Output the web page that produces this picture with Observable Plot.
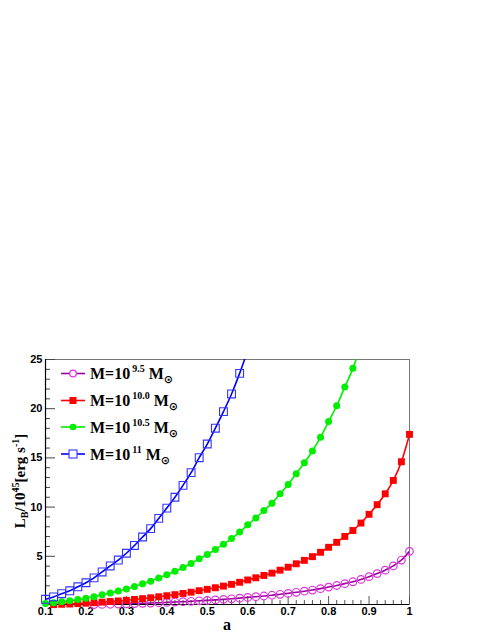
<!DOCTYPE html>
<html>
<head>
<meta charset="utf-8">
<script src="https://cdn.jsdelivr.net/npm/d3@7"></script>
<script src="https://cdn.jsdelivr.net/npm/@observablehq/plot@0.6"></script>
<style>
  html, body { margin: 0; padding: 0; background: white; }
</style>
</head>
<body>
<div id="chart"></div>
<script>
// spin parameter a
const aValues = [0.10,0.12,0.14,0.16,0.18,0.20,0.22,0.24,0.26,0.28,0.30,0.32,0.34,0.36,0.38,0.40,0.42,0.44,0.46,0.48,0.50,0.52,0.54,0.56,0.58,0.60,0.62,0.64,0.66,0.68,0.70,0.72,0.74,0.76,0.78,0.80,0.82,0.84,0.86,0.88,0.90,0.92,0.94,0.96,0.98,1.00];
// L_B / 1e45 erg/s for each mass
const lumM95  = [0.020,0.028,0.038,0.047,0.060,0.073,0.089,0.108,0.127,0.146,0.168,0.193,0.220,0.247,0.280,0.313,0.348,0.386,0.427,0.475,0.519,0.570,0.623,0.680,0.746,0.820,0.890,0.965,1.040,1.135,1.230,1.340,1.450,1.570,1.710,1.870,2.030,2.220,2.410,2.650,2.930,3.240,3.590,4.020,4.620,5.500];
const lumM100 = [0.063,0.087,0.120,0.149,0.190,0.231,0.281,0.341,0.402,0.462,0.531,0.610,0.696,0.781,0.885,0.990,1.100,1.221,1.350,1.502,1.641,1.802,1.970,2.150,2.359,2.593,2.814,3.051,3.288,3.589,3.889,4.237,4.585,4.964,5.407,5.913,6.419,7.020,7.620,8.379,9.265,10.245,11.352,12.711,14.608,17.391];
const lumM105 = [0.20,0.28,0.38,0.47,0.60,0.73,0.89,1.08,1.27,1.46,1.68,1.93,2.20,2.47,2.80,3.13,3.48,3.86,4.27,4.75,5.19,5.70,6.23,6.80,7.46,8.20,8.90,9.65,10.40,11.35,12.30,13.40,14.50,15.70,17.10,18.70,20.30,22.20,24.10,26.50];
const lumM110 = [0.63,0.87,1.20,1.49,1.90,2.31,2.81,3.41,4.02,4.62,5.31,6.10,6.96,7.81,8.85,9.90,11.00,12.21,13.50,15.02,16.41,18.02,19.70,21.50,23.59,25.93];

const seriesNames = ["9.5", "10.0", "10.5", "11"];
const seriesValues = [lumM95, lumM100, lumM105, lumM110];
const lineColors = ["#990099", "#ff0000", "#00ee00", "#0000ff"];
const markColors = ["#dd33dd", "#ff0000", "#00ee00", "#3333ff"];

const xMajor = [0.1,0.2,0.3,0.4,0.5,0.6,0.7,0.8,0.9,1.0];
const xMinor = [0.12,0.14,0.16,0.18,0.22,0.24,0.26,0.28,0.32,0.34,0.36,0.38,0.42,0.44,0.46,0.48,0.52,0.54,0.56,0.58,0.62,0.64,0.66,0.68,0.72,0.74,0.76,0.78,0.82,0.84,0.86,0.88,0.92,0.94,0.96,0.98];
const yMajor = [5,10,15,20,25];
const yMinor = [1,2,3,4,6,7,8,9,11,12,13,14,16,17,18,19,21,22,23,24];

const rows = seriesValues.map((vals, s) => vals.map((v, i) => ({a: aValues[i], L: v, s})));
const yMin = 0.1, yMax = 25;
const visible = r => r.L >= 0.085 && r.L <= yMax;

const lineMarks = rows.map((r, s) => Plot.line(r, {x: "a", y: "L", stroke: lineColors[s], strokeWidth: 1.6, curve: "monotone-x", clip: true}));
const dotMarks = [
  Plot.dot(rows[0].filter(visible), {x: "a", y: "L", r: 3.8, symbol: "circle", stroke: markColors[0], strokeWidth: 1.2, fill: "none"}),
  Plot.dot(rows[1].filter(visible), {x: "a", y: "L", r: 3.9, symbol: "square", fill: markColors[1], stroke: "none"}),
  Plot.dot(rows[2].filter(visible), {x: "a", y: "L", r: 3.5, symbol: "circle", fill: markColors[2], stroke: "none"}),
  Plot.dot(rows[3].filter(visible), {x: "a", y: "L", r: 4.4, symbol: "square", stroke: markColors[3], strokeWidth: 1.1, fill: "none"})
];

const chart = Plot.plot({
  width: 491,
  height: 635,
  marginLeft: 45,
  marginRight: 82,
  marginTop: 359,
  marginBottom: 31,
  x: {domain: [0.1, 1]},
  y: {domain: [yMin, yMax]},
  style: {fontFamily: "'Liberation Sans', Arial, sans-serif", fontWeight: "bold", fontSize: "11px", color: "black", background: "white"},
  marks: [
    Plot.frame({stroke: "#777777", strokeWidth: 1}),
    Plot.axisX(xMajor, {anchor: "bottom", tickSize: -8, tickFormat: () => "", label: null, stroke: "#555"}),
    Plot.axisX(xMinor, {anchor: "bottom", tickSize: -4, tickFormat: () => "", label: null, stroke: "#555"}),
    Plot.axisX(xMajor, {anchor: "bottom", tickSize: 0, tickPadding: 3, tickFormat: d => d3.format("")(+d.toFixed(1)), label: null, fontSize: 11, fontWeight: "bold"}),
    Plot.axisY(yMajor, {anchor: "left", tickSize: -10, tickFormat: () => "", label: null, stroke: "#444"}),
    Plot.axisY(yMinor, {anchor: "left", tickSize: -5, tickFormat: () => "", label: null, stroke: "#444"}),
    Plot.axisY(yMajor, {anchor: "left", tickSize: 0, tickPadding: 3, tickFormat: d => String(d), label: null, fontSize: 11, fontWeight: "bold"}),
    Plot.ruleY([yMin], {stroke: "black", strokeWidth: 1.2}),
    Plot.ruleX([0.1], {stroke: "black", strokeWidth: 1.2}),
    ...lineMarks,
    ...dotMarks
  ]
});

document.getElementById("chart").appendChild(chart);

const svg = d3.select(chart);
const serif = "'Liberation Serif', 'Times New Roman', serif";

// x-axis title
svg.append("text")
  .attr("x", 227).attr("y", 630)
  .attr("text-anchor", "middle")
  .attr("font-family", serif).attr("font-weight", "bold").attr("font-size", 16)
  .text("a");

// y-axis title
const yt = svg.append("text")
  .attr("transform", "translate(25,481) rotate(-90)")
  .attr("text-anchor", "middle")
  .attr("font-family", serif).attr("font-weight", "bold").attr("font-size", 15);
yt.append("tspan").text("L");
yt.append("tspan").attr("font-size", 10).attr("dy", 3).text("B");
yt.append("tspan").attr("dy", -3).text("/10");
yt.append("tspan").attr("font-size", 10).attr("dy", -6).text("45");
yt.append("tspan").attr("dy", 6).text("[erg s");
yt.append("tspan").attr("font-size", 10).attr("dy", -6).text("-1");
yt.append("tspan").attr("dy", 6).text("]");

// legend
const legY = [373.5, 400.5, 427, 454];
const leg = svg.append("g").attr("text-anchor", "start");
seriesNames.forEach((name, i) => {
  const y = legY[i];
  leg.append("line").attr("x1", 61).attr("x2", 85).attr("y1", y).attr("y2", y)
    .attr("stroke", lineColors[i]).attr("stroke-width", 1.6);
  if (i === 0) {
    leg.append("circle").attr("cx", 73).attr("cy", y).attr("r", 3.3).attr("fill", "white").attr("stroke", markColors[0]).attr("stroke-width", 1.2);
  } else if (i === 1) {
    leg.append("rect").attr("x", 69.5).attr("y", y - 3.5).attr("width", 7).attr("height", 7).attr("fill", markColors[1]);
  } else if (i === 2) {
    leg.append("circle").attr("cx", 73).attr("cy", y).attr("r", 3.3).attr("fill", markColors[2]);
  } else {
    leg.append("rect").attr("x", 69).attr("y", y - 4).attr("width", 8).attr("height", 8).attr("fill", "white").attr("stroke", markColors[3]).attr("stroke-width", 1.1);
  }
  const t = leg.append("text").attr("x", 90).attr("y", y + 5.5)
    .attr("text-anchor", "start")
    .attr("font-family", serif).attr("font-weight", "bold").attr("font-size", 16);
  t.append("tspan").text("M=10");
  t.append("tspan").attr("font-size", 10).attr("dy", -7).attr("dx", 2).text(name);
  t.append("tspan").attr("dy", 7).attr("dx", 4).text("M");
  t.append("tspan").attr("font-family", "'DejaVu Sans', sans-serif").attr("font-weight", "bold").attr("font-size", 11).attr("dy", 4).text("\u2299");
});
</script>
</body>
</html>
